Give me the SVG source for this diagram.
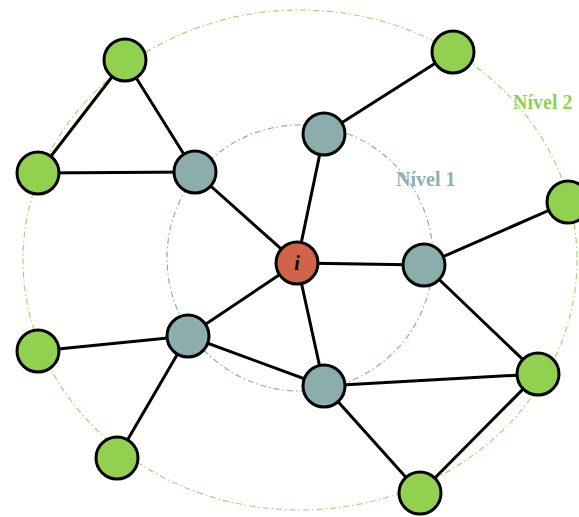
<svg xmlns="http://www.w3.org/2000/svg" width="579" height="517" viewBox="0 0 579 517">
  <style>
    .ring1 { fill: none; stroke: #8fb0b3; stroke-width: 1.2; stroke-dasharray: 6 3 1.5 3; }
    .ring2 { fill: none; stroke: #a6d86e; stroke-width: 1.2; stroke-dasharray: 6 3 1.5 3; }
    .edge { stroke: #000; stroke-width: 3; stroke-linecap: round; }
    .node circle { stroke: #000; stroke-width: 3; }
    .green circle { fill: #92d050; }
    .teal circle { fill: #8cadad; }
    .red circle { fill: #d0634a; }
    .lbl { font-family: "Liberation Serif", "Times New Roman", serif; font-weight: bold; font-size: 20px; }
  </style>

  <!-- neighbourhood levels -->
  <g id="levels">
    <ellipse class="ring2" cx="300" cy="260" rx="277" ry="250"/>
    <circle class="ring1" cx="300" cy="258" r="133"/>
    <text class="lbl" x="396" y="186" fill="#8fb0b3">Nível 1</text>
    <text class="lbl" x="513" y="109" fill="#92d050">Nível 2</text>
  </g>

  <!-- connectors -->
  <g id="edges">
    <line class="edge" x1="125" y1="60" x2="38" y2="173"/>
    <line class="edge" x1="125" y1="60" x2="195" y2="172"/>
    <line class="edge" x1="38" y1="173" x2="195" y2="172"/>
    <line class="edge" x1="195" y1="172" x2="297" y2="263"/>
    <line class="edge" x1="324" y1="134" x2="297" y2="263"/>
    <line class="edge" x1="324" y1="134" x2="453" y2="52"/>
    <line class="edge" x1="297" y1="263" x2="424" y2="265"/>
    <line class="edge" x1="424" y1="265" x2="568" y2="202"/>
    <line class="edge" x1="424" y1="265" x2="538" y2="374"/>
    <line class="edge" x1="297" y1="263" x2="188" y2="336"/>
    <line class="edge" x1="297" y1="263" x2="324" y2="386"/>
    <line class="edge" x1="188" y1="336" x2="38" y2="351"/>
    <line class="edge" x1="188" y1="336" x2="117" y2="458"/>
    <line class="edge" x1="188" y1="336" x2="324" y2="386"/>
    <line class="edge" x1="324" y1="386" x2="538" y2="374"/>
    <line class="edge" x1="324" y1="386" x2="420" y2="493"/>
    <line class="edge" x1="420" y1="493" x2="538" y2="374"/>
  </g>

  <!-- nodes -->
  <g id="n-top-left" class="node green"><circle cx="125" cy="60" r="21"/></g>
  <g id="n-top-right" class="node green"><circle cx="453" cy="52" r="21"/></g>
  <g id="n-left" class="node green"><circle cx="38" cy="173" r="21"/></g>
  <g id="n-far-right" class="node green"><circle cx="568" cy="202" r="21"/></g>
  <g id="n-left-low" class="node green"><circle cx="38" cy="351" r="21"/></g>
  <g id="n-bottom-left" class="node green"><circle cx="117" cy="458" r="21"/></g>
  <g id="n-right-low" class="node green"><circle cx="538" cy="374" r="21"/></g>
  <g id="n-bottom" class="node green"><circle cx="420" cy="493" r="21"/></g>

  <g id="n1-upper-left" class="node teal"><circle cx="195" cy="172" r="21"/></g>
  <g id="n1-top" class="node teal"><circle cx="324" cy="134" r="21"/></g>
  <g id="n1-right" class="node teal"><circle cx="424" cy="265" r="21"/></g>
  <g id="n1-lower-left" class="node teal"><circle cx="188" cy="336" r="21"/></g>
  <g id="n1-bottom" class="node teal"><circle cx="324" cy="386" r="21"/></g>

  <g id="n-i" class="node red">
    <circle cx="297" cy="263" r="21"/>
    <text x="297" y="270" text-anchor="middle" font-family="'Liberation Serif', 'Times New Roman', serif" font-weight="bold" font-style="italic" font-size="20" fill="#000">i</text>
  </g>
</svg>
